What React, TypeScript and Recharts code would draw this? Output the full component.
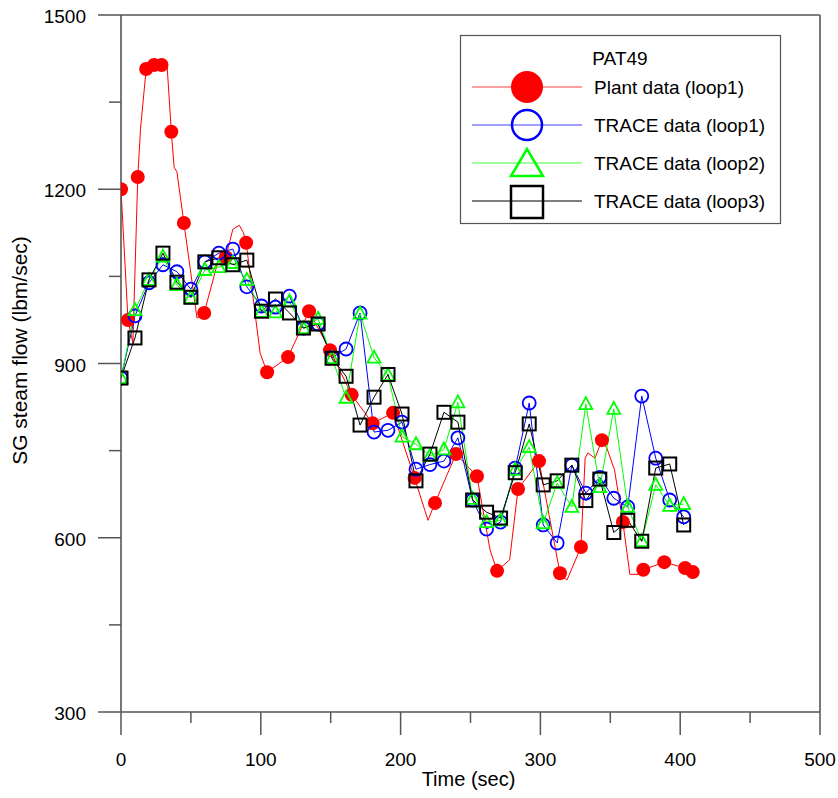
import React from 'react';
import { LineChart, Line, XAxis, YAxis, ReferenceLine, Legend, Label } from 'recharts';

// ---------- data ----------
const plantLineTime = [0, 5, 8.5, 12, 14, 18, 23.6, 29, 33, 36, 38, 40, 45, 54.4, 59.5, 69.6, 75, 80, 84.6, 87.6, 89.5, 99.5, 104.5, 119.5, 134.5, 149.5, 165, 180, 194.6, 210, 219.6, 224.6, 239.6, 254.6, 264, 269, 278, 284, 299, 314, 319, 329, 332, 334, 339, 344, 347.6, 353, 359, 364, 370, 373.6, 388.6, 403.5, 409];
const plantLineFlow = [1200, 975, 935, 1221, 1305, 1407, 1414, 1414, 1412, 1299, 1238, 1230, 1142, 978, 987, 1078, 1083, 1131, 1138, 1125, 1108, 918, 885, 911, 990, 923, 846, 797, 815, 703, 630, 660, 744, 706, 579, 543, 562, 684, 732, 539, 527, 584, 737, 746, 737, 768, 754, 717, 627, 537, 537, 545, 558, 548, 541];

const plantMarkerTime = [0, 5, 12, 18, 23.6, 29, 36, 45, 59.5, 75, 89.5, 104.5, 119.5, 134.5, 149.5, 165, 180, 194.6, 210, 224.6, 239.6, 254.6, 269, 284, 299, 314, 329, 344, 359, 373.6, 388.6, 403.5, 409];
const plantMarkerFlow = [1200, 975, 1221, 1407, 1414, 1414, 1299, 1142, 987, 1083, 1108, 885, 911, 990, 923, 846, 797, 815, 703, 660, 744, 706, 543, 684, 732, 539, 584, 768, 627, 545, 558, 548, 541];

const traceTime = [0, 10, 20, 30, 40, 50, 60, 70, 80, 90, 100.5, 110.5, 120.5, 130.5, 141, 151, 161, 171, 181, 191, 201, 211, 221, 231, 241, 251.5, 261.5, 271.5, 282, 292, 302, 312, 322.5, 332.5, 342.5, 352.5, 362.5, 372.5, 382.5, 392.5, 402.5];
const traceLoop1 = [875, 982, 1039, 1070, 1058, 1028, 1075, 1090, 1097, 1032, 999, 997, 1016, 961, 968, 910, 925, 987, 782, 785, 799, 718, 726, 732, 772, 665, 615, 627, 720, 832, 622, 591, 725, 677, 704, 668, 653, 844, 737, 665, 636];
const traceLoop2 = [875, 992, 1044, 1084, 1035, 1013, 1061, 1066, 1073, 1044, 989, 988, 1007, 961, 977, 909, 841, 986, 910, 880, 774, 761, 741, 752, 833, 667, 627, 630, 717, 756, 625, 694, 653, 830, 687, 822, 653, 594, 691, 655, 658];
const traceLoop3 = [875, 944, 1044, 1090, 1040, 1014, 1075, 1082, 1070, 1078, 990, 1011, 987, 961, 968, 909, 878, 794, 842, 881, 813, 698, 744, 816, 799, 665, 644, 634, 712, 796, 691, 698, 725, 664, 701, 609, 630, 594, 720, 727, 622];

const xTicks = [0, 50, 100, 150, 200, 250, 300, 350, 400, 450, 500];
const yTicks = [300, 450, 600, 750, 900, 1050, 1200, 1350, 1500];
const legendTitle = 'PAT49';
const seriesNames = ['Plant data (loop1)', 'TRACE data (loop1)', 'TRACE data (loop2)', 'TRACE data (loop3)'];
const seriesColors = ['#ff0000', '#0000ff', '#00ff00', '#000000'];
const xTitle = 'Time (sec)';
const yTitle = 'SG steam flow (lbm/sec)';

// ---------- build ----------
const plantLine = plantLineTime.map((t, i) => ({ t, v: plantLineFlow[i] }));
const plantMarkers = plantMarkerTime.map((t, i) => ({ t, v: plantMarkerFlow[i] }));
const loop1 = traceTime.map((t, i) => ({ t, v: traceLoop1[i] }));
const loop2 = traceTime.map((t, i) => ({ t, v: traceLoop2[i] }));
const loop3 = traceTime.map((t, i) => ({ t, v: traceLoop3[i] }));

const FONT = '"Liberation Sans", Arial, sans-serif';
const AXIS = '#555555';

const XTick = (props: any) => {
  const { x, y, payload } = props;
  const major = payload.value % 100 === 0;
  return (
    <g>
      <line x1={x} y1={y} x2={x} y2={y + (major ? 23 : 11)} stroke={AXIS} strokeWidth={1.5} />
      {major && (
        <text x={x} y={y + 54} textAnchor="middle" fontSize={19} fill="#000" fontFamily={FONT}>
          {payload.value}
        </text>
      )}
    </g>
  );
};

const YTick = (props: any) => {
  const { x, y, payload } = props;
  const major = payload.value % 300 === 0;
  return (
    <g>
      <line x1={x - (major ? 23 : 12)} y1={y} x2={x} y2={y} stroke={AXIS} strokeWidth={1.5} />
      {major && (
        <text x={x - 35} y={y + 8} textAnchor="end" fontSize={19} fill="#000" fontFamily={FONT}>
          {payload.value}
        </text>
      )}
    </g>
  );
};

const YTitle = (props: any) => {
  const vb = props.viewBox || { x: 0, y: 15, width: 121, height: 697 };
  const cx = vb.x + 27;
  const cy = vb.y + vb.height / 2 - 13;
  return (
    <text x={cx} y={cy} transform={`rotate(-90 ${cx} ${cy})`} textAnchor="middle" fontSize={21} fill="#000" fontFamily={FONT}>
      {yTitle}
    </text>
  );
};

const XTitle = (props: any) => {
  const vb = props.viewBox || { x: 121, y: 712, width: 699, height: 86 };
  return (
    <text x={vb.x + vb.width / 2 - 2} y={vb.y + 74} textAnchor="middle" fontSize={20} fill="#000" fontFamily={FONT}>
      {xTitle}
    </text>
  );
};

const FilledDot = (p: any) =>
  p.cx == null ? <g key={p.index} /> : <circle key={p.index} cx={p.cx} cy={p.cy} r={7} fill={seriesColors[0]} />;
const CircleDot = (p: any) =>
  p.cx == null ? <g key={p.index} /> : <circle key={p.index} cx={p.cx} cy={p.cy} r={6.5} fill="none" stroke={seriesColors[1]} strokeWidth={1.8} />;
const TriDot = (p: any) =>
  p.cx == null ? <g key={p.index} /> : (
    <polygon key={p.index} points={`${p.cx},${p.cy - 7} ${p.cx - 6.5},${p.cy + 5} ${p.cx + 6.5},${p.cy + 5}`} fill="none" stroke={seriesColors[2]} strokeWidth={1.8} />
  );
const SquareDot = (p: any) =>
  p.cx == null ? <g key={p.index} /> : (
    <rect key={p.index} x={p.cx - 6.5} y={p.cy - 6.5} width={13} height={13} fill="none" stroke={seriesColors[3]} strokeWidth={2} />
  );

const LegendBox = () => {
  const rows = [52, 90, 128, 166];
  return (
    <svg width={322} height={190} style={{ overflow: 'visible' }}>
      <rect x={0.5} y={0.5} width={320} height={188} fill="#fff" stroke={AXIS} strokeWidth={1.2} />
      <text x={160} y={30} textAnchor="middle" fontSize={19} fontFamily={FONT} fill="#000">{legendTitle}</text>
      {seriesNames.map((name, i) => {
        const cy = rows[i];
        const c = seriesColors[i];
        let marker: any = null;
        if (i === 0) marker = <circle cx={67} cy={cy} r={16} fill={c} />;
        if (i === 1) marker = <circle cx={67} cy={cy} r={15} fill="none" stroke={c} strokeWidth={2.5} />;
        if (i === 2) marker = <polygon points={`67,${cy - 14} ${67 - 16},${cy + 13} ${67 + 16},${cy + 13}`} fill="none" stroke={c} strokeWidth={2.5} />;
        if (i === 3) marker = <rect x={67 - 16} y={cy - 15} width={32} height={32} fill="none" stroke={c} strokeWidth={2.5} />;
        return (
          <g key={name}>
            <line x1={12} y1={cy} x2={122} y2={cy} stroke={c} strokeWidth={1.2} opacity={i === 3 ? 1 : 0.75} />
            {marker}
            <text x={134} y={cy + 7} fontSize={19} fontFamily={FONT} fill="#000">{name}</text>
          </g>
        );
      })}
    </svg>
  );
};

export default function App() {
  return (
    <div style={{ position: 'absolute', left: 0, top: 0, background: '#fff' }}>
      <LineChart width={838} height={798} margin={{ top: 15, right: 18, bottom: 0, left: 0 }}>
        <XAxis
          type="number"
          dataKey="t"
          domain={[0, 500]}
          ticks={xTicks}
          interval={0}
          allowDataOverflow
          height={86}
          tickSize={0}
          tickMargin={0}
          tickLine={false}
          tick={<XTick />}
          axisLine={{ stroke: AXIS, strokeWidth: 1.6 }}
        >
          <Label content={<XTitle />} />
        </XAxis>
        <YAxis
          type="number"
          dataKey="v"
          domain={[300, 1500]}
          ticks={yTicks}
          interval={0}
          allowDataOverflow
          width={121}
          tickSize={0}
          tickMargin={0}
          tickLine={false}
          tick={<YTick />}
          axisLine={{ stroke: AXIS, strokeWidth: 1.6 }}
        >
          <Label content={<YTitle />} />
        </YAxis>
        <ReferenceLine y={1500} stroke={AXIS} strokeWidth={1.6} />
        <ReferenceLine x={500} stroke={AXIS} strokeWidth={1.6} />
        <Line data={plantLine} dataKey="v" stroke={seriesColors[0]} strokeWidth={1} dot={false} activeDot={false} isAnimationActive={false} legendType="none" />
        <Line data={plantMarkers} dataKey="v" stroke="none" dot={FilledDot} activeDot={false} isAnimationActive={false} legendType="none" />
        <Line data={loop1} dataKey="v" stroke={seriesColors[1]} strokeWidth={1} dot={CircleDot} activeDot={false} isAnimationActive={false} />
        <Line data={loop2} dataKey="v" stroke={seriesColors[2]} strokeWidth={1} dot={TriDot} activeDot={false} isAnimationActive={false} />
        <Line data={loop3} dataKey="v" stroke={seriesColors[3]} strokeWidth={1} dot={SquareDot} activeDot={false} isAnimationActive={false} />
        <Legend
          verticalAlign="middle"
          align="center"
          layout="horizontal"
          content={<LegendBox />}
          wrapperStyle={{ left: 460, top: 35, width: 322, height: 190 }}
        />
      </LineChart>
    </div>
  );
}
